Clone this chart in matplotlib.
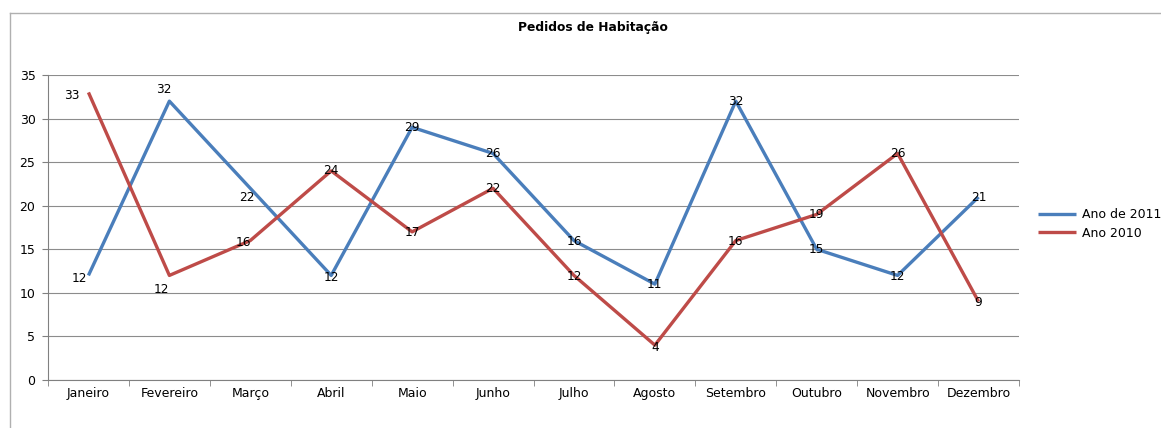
import matplotlib.pyplot as plt
from matplotlib.lines import Line2D
import numpy as np

meses = ['Janeiro', 'Fevereiro', 'Março', 'Abril', 'Maio', 'Junho', 'Julho',
         'Agosto', 'Setembro', 'Outubro', 'Novembro', 'Dezembro']
ano_2011 = [12, 32, 22, 12, 29, 26, 16, 11, 32, 15, 12, 21]
ano_2010 = [33, 12, 16, 24, 17, 22, 12, 4, 16, 19, 26, 9]

# label offsets in pixels (dx, dy up), roughly as Excel placed them
off_2011 = [(-9, -3), (-6, 12), (-3, -9), (0, -2), (0, 0), (0, 0),
            (0, -1), (0, 0), (0, 0), (0, 0), (0, -1), (0, 0)]
off_2010 = [(-17, -3), (-8, -14), (-7, -2), (0, 0), (0, -1), (0, 0),
            (0, -1), (0, -2), (0, -1), (0, 0), (0, 0), (0, -1)]

plt.rcParams['font.family'] = ['DejaVu Sans']
W, H = 1161, 428
fig = plt.figure(figsize=(W / 100, H / 100), dpi=100)
ax = fig.add_axes([48 / W, 1 - 380 / H, (1019 - 48) / W, (380 - 75) / H])

x = np.arange(len(meses))
azul = '#4A7EBB'
verm = '#BE4B48'
ax.plot(x, ano_2011, color=azul, lw=2.4, label='Ano de 2011', solid_capstyle='butt')
ax.plot(x, ano_2010, color=verm, lw=2.4, label='Ano 2010', solid_capstyle='butt')

for ys, offs in [(ano_2011, off_2011), (ano_2010, off_2010)]:
    for xi, yi, (dx, dy) in zip(x, ys, offs):
        ax.annotate(str(yi), (xi, yi), xytext=(dx * 0.72, dy * 0.72),
                    textcoords='offset points', ha='center', va='center',
                    fontsize=8.7, color='black')

ax.set_xlim(-0.5, len(meses) - 0.5)
ax.set_ylim(0, 35)
ax.set_yticks(range(0, 36, 5))
ax.set_xticks(x)
ax.set_xticklabels(meses, fontsize=9)
ax.set_xticks(np.arange(-0.5, len(meses), 1), minor=True)
ax.tick_params(axis='x', which='major', length=0, pad=5)
ax.tick_params(axis='x', which='minor', length=4, color='#808080', direction='out')
ax.tick_params(axis='y', length=4, color='#808080', labelsize=9, pad=5)
ax.grid(axis='y', color='#8c8c8c', lw=0.8)
ax.set_axisbelow(True)
for s in ['top', 'right']:
    ax.spines[s].set_visible(False)
ax.spines['left'].set_color('#808080')
ax.spines['bottom'].set_color('#808080')

fig.text(593 / W, 1 - 27 / H, 'Pedidos de Habitação', ha='center', va='center',
         fontsize=8.8, fontweight='bold')

leg = fig.legend(loc='center left', bbox_to_anchor=(1027 / W, 1 - 224 / H),
                 frameon=False, fontsize=9, handlelength=3.0,
                 labelspacing=0.45, handletextpad=0.5)

# chart border (top and left edges visible)
fig.add_artist(Line2D([10 / W, 1], [1 - 13 / H, 1 - 13 / H], color='#b0b0b0', lw=1))
fig.add_artist(Line2D([10 / W, 10 / W], [0, 1 - 13 / H], color='#b0b0b0', lw=1))

fig.savefig('out.png', dpi=100)
